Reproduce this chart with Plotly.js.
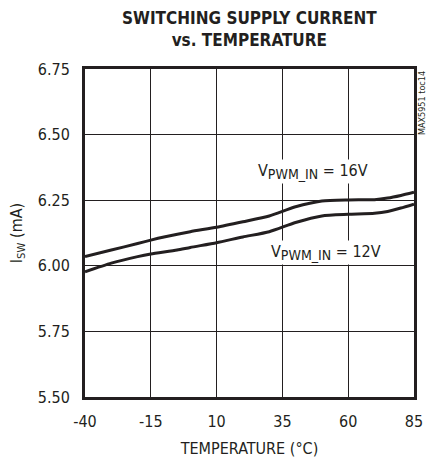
<!DOCTYPE html>
<html><head><meta charset="utf-8">
<script src="https://cdn.plot.ly/plotly-3.0.1.min.js"></script>
<style>body{margin:0;background:#fff}#chart{width:433px;height:458px}</style>
</head><body><div id="chart"></div>
<script>
var temp16 = [-40, -30, -20, -15, -10, 0, 10, 20, 30, 40, 50, 60, 70, 75, 80, 85];
var isw16  = [6.035, 6.06, 6.085, 6.098, 6.11, 6.13, 6.147, 6.168, 6.19, 6.225, 6.247, 6.251, 6.252, 6.258, 6.268, 6.28];
var temp12 = [-40, -30, -20, -15, -5, 0, 10, 20, 30, 40, 50, 60, 70, 75, 80, 85];
var isw12  = [5.977, 6.01, 6.035, 6.045, 6.06, 6.07, 6.088, 6.11, 6.13, 6.165, 6.19, 6.196, 6.2, 6.207, 6.22, 6.235];
var xTicks = [-40, -15, 10, 35, 60, 85];
var yTicks = [5.50, 5.75, 6.00, 6.25, 6.50, 6.75];
var yTickText = ['5.50', '5.75', '6.00', '6.25', '6.50', '6.75'];
var label16 = 'V<sub><span style="font-size:14px">PWM_IN</span></sub> = 16V';
var label12 = 'V<sub><span style="font-size:14px">PWM_IN</span></sub> = 12V';
var titleText = 'SWITCHING SUPPLY CURRENT<br>vs. TEMPERATURE';

var FONT = 'DejaVu Sans Condensed, sans-serif';
var INK = '#231f20';
var data = [
  {x: temp16, y: isw16, mode: 'lines', hoverinfo: 'none',
   line: {color: INK, width: 3, shape: 'spline', smoothing: 0.6}},
  {x: temp12, y: isw12, mode: 'lines', hoverinfo: 'none',
   line: {color: INK, width: 3, shape: 'spline', smoothing: 0.6}}
];
var layout = {
  width: 433, height: 458,
  margin: {l: 85, r: 19, t: 69, b: 61},
  showlegend: false,
  paper_bgcolor: '#fff', plot_bgcolor: '#fff',
  font: {family: FONT, color: INK, size: 16},
  xaxis: {
    range: [-40, 85], tickvals: xTicks, ticktext: xTicks.map(String),
    showgrid: true, gridcolor: INK, gridwidth: 1,
    zeroline: false, showline: true, linecolor: INK, linewidth: 3, mirror: true,
    ticks: '', ticklabelstandoff: 8,
    tickfont: {family: FONT, size: 16, color: INK},
    title: {text: 'TEMPERATURE (°C)', font: {family: FONT, size: 16, color: INK}, standoff: 14}
  },
  yaxis: {
    range: [5.5, 6.75], tickvals: yTicks, ticktext: yTickText,
    showgrid: true, gridcolor: INK, gridwidth: 1,
    zeroline: false, showline: true, linecolor: INK, linewidth: 3, mirror: true,
    ticks: '', ticklabelstandoff: 9,
    tickfont: {family: FONT, size: 16, color: INK},
    title: {text: 'I<sub>SW</sub> (mA)', font: {family: FONT, size: 16, color: INK}, standoff: 12}
  },
  annotations: [
    {x: 0.5, y: 1, xref: 'paper', yref: 'paper', yanchor: 'bottom', yshift: 17,
     text: '<b>' + titleText + '</b>', showarrow: false,
     font: {family: FONT, size: 17, color: INK}},
    {x: 46.5, y: 6.36, xref: 'x', yref: 'y', text: label16, showarrow: false,
     font: {family: FONT, size: 16, color: INK}, bgcolor: '#fff'},
    {x: 51.5, y: 6.05, xref: 'x', yref: 'y', text: label12, showarrow: false,
     font: {family: FONT, size: 16, color: INK}, bgcolor: '#fff'},
    {x: 1.0, y: 1.0, xref: 'paper', yref: 'paper', xanchor: 'left', yanchor: 'top', xshift: 1,
     text: 'MAX5951 toc14', textangle: -90, showarrow: false,
     font: {family: FONT, size: 9, color: INK}}
  ]
};
Plotly.newPlot('chart', data, layout, {displayModeBar: false, staticPlot: true});
</script>
</body></html>
